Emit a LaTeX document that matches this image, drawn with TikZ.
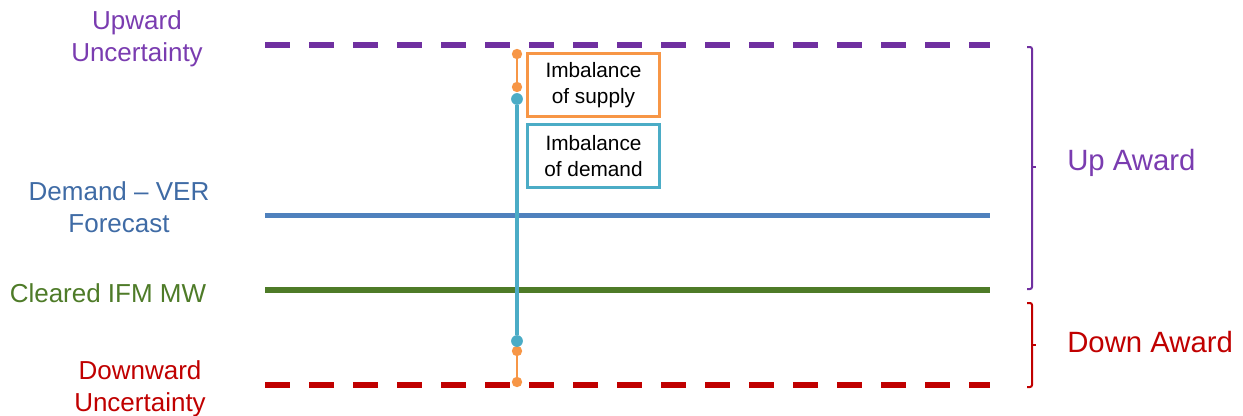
\documentclass[tikz,border=0pt]{standalone}
\usepackage{fontspec}
\setmainfont{Liberation Sans}
\definecolor{upc}{HTML}{7030A0}
\definecolor{uptxt}{HTML}{7A3CB0}
\definecolor{fcst}{HTML}{4F81BD}
\definecolor{fcsttxt}{HTML}{3F6BA5}
\definecolor{ifm}{HTML}{4E7B28}
\definecolor{dnc}{HTML}{C00000}
\definecolor{supc}{HTML}{F79646}
\definecolor{demc}{HTML}{4BACC6}
\tikzset{
  level/.style={line width=4.4pt},
  uncert/.style={level, dash pattern=on 18.75pt off 14.25pt},
  lbl/.style={align=center, font=\fontsize{19.5}{24}\selectfont, inner sep=0pt},
  award/.style={anchor=west, font=\fontsize{22}{26}\selectfont, inner sep=0pt},
  infobox/.style={draw, line width=2.2pt, fill=white, minimum width=99pt, minimum height=47pt,
    align=center, font=\fontsize{15.6}{19.5}\selectfont, inner sep=0pt},
  sdot/.style={circle, fill=supc, minimum size=7.8pt, inner sep=0pt},
  ddot/.style={circle, fill=demc, minimum size=8.8pt, inner sep=0pt},
  brace/.style={line width=1.5pt, rounded corners=1.5pt},
}
\begin{document}
\begin{tikzpicture}[x=0.75pt, y=-0.75pt]
\useasboundingbox (0,0) rectangle (1243,415);

% level lines
\coordinate (upL) at (265,45);   \coordinate (upR) at (990,45);
\coordinate (fcL) at (265,215.5);  \coordinate (fcR) at (990,215.5);
\coordinate (ifL) at (265,290);  \coordinate (ifR) at (990,290);
\coordinate (dnL) at (265,385);  \coordinate (dnR) at (990,385);
\draw[uncert, upc] (upL) -- (upR);
\draw[level, fcst] (fcL) -- (fcR);
\draw[level, ifm] (ifL) -- (ifR);
\draw[uncert, dnc] (dnL) -- (dnR);

% level labels
\node[lbl, text=uptxt] (upT) at (137,38.5) {Upward\\Uncertainty};
\node[lbl, text=fcsttxt] (fcT) at (119,207) {Demand -- VER\\Forecast};
\node[lbl, text=ifm] (ifT) at (108,293) {Cleared IFM MW};
\node[lbl, text=dnc] (dnT) at (140,388.5) {Downward\\Uncertainty};

% imbalance markers
\node[sdot] (s1) at (517,54) {};
\node[sdot] (s2) at (517,87) {};
\node[sdot] (s3) at (517,351) {};
\node[sdot] (s4) at (517,382) {};
\draw[supc, line width=1.3pt] (s1) -- (s2);
\draw[supc, line width=1.3pt] (s3) -- (s4);
\node[ddot] (d1) at (517,99) {};
\node[ddot] (d2) at (517,341) {};
\draw[demc, line width=3.2pt] (d1) -- (d2);

% legend boxes
\node[infobox, draw=supc] (supB) at (593.5,85) {Imbalance\\of supply};
\node[infobox, draw=demc] (demB) at (593.5,156) {Imbalance\\of demand};

% award braces
\coordinate (ua1) at (1027,47);  \coordinate (ua2) at (1027,289);
\coordinate (da1) at (1027,303); \coordinate (da2) at (1027,387);
\draw[brace, upc] (ua1) -- ++(5,0) -- ++(0,242) -- (ua2);
\draw[upc, line width=1.5pt] (1032,167) -- ++(4,0);
\draw[brace, dnc] (da1) -- ++(5,0) -- ++(0,84) -- (da2);
\draw[dnc, line width=1.5pt] (1032,345) -- ++(4,0);
\node[award, text=uptxt] (upA) at (1067,163) {Up Award};
\node[award, text=dnc] (dnA) at (1067,342) {Down Award};
\end{tikzpicture}
\end{document}
